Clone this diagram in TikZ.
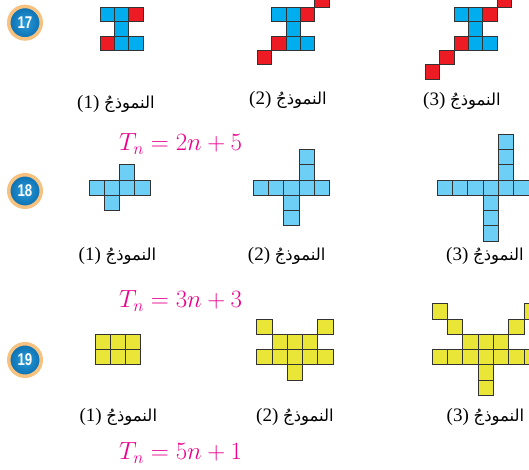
\documentclass[tikz,border=0pt]{standalone}
\usepackage{fontspec}
\usepackage{graphicx}
\setmainfont{Liberation Serif}
\newfontfamily\arabicfont[Script=Arabic]{DejaVu Sans}
\newfontfamily\badgefont{Liberation Sans}
\TeXXeTstate=1
\definecolor{cyanblue}{HTML}{00AEEF}
\definecolor{skyblue}{HTML}{6DCFF6}
\definecolor{tilered}{HTML}{ED1C24}
\definecolor{tileyellow}{HTML}{EAE638}
\definecolor{tileedge}{HTML}{333333}
\definecolor{formulapink}{HTML}{EC008C}
\definecolor{badgeblue}{HTML}{0B6FB0}
\definecolor{badgelight}{HTML}{2A9BDA}
\definecolor{badgering}{HTML}{F7C17F}
\newcommand{\tiles}[5]{\foreach \c/\r in {#5} \draw[tile, fill=#4] ({#1+(\c)*#3},{#2+(\r)*#3}) rectangle ++(#3,#3);}
\newcommand{\modelname}[1]{(#1)~{\arabicfont\fontsize{16.5}{16.5}\selectfont\beginR النموذجُ\endR}}
\tikzset{tile/.style={draw=tileedge, line width=0.9pt},
  modellabel/.style={inner sep=0pt, font=\fontsize{19}{19}\selectfont},
  formula/.style={anchor=west, inner sep=0pt, text=formulapink, font=\fontsize{23}{23}\selectfont},
  badge/.style={circle, draw=badgering, line width=3.5pt, inner color=badgelight, outer color=badgeblue, minimum size=32.5pt, inner sep=0pt, text=white, font=\badgefont\bfseries\fontsize{17}{17}\selectfont}}

\begin{document}
\begin{tikzpicture}[x=1pt, y=-1pt]
\useasboundingbox (0,0) rectangle (529,470);
\clip (0,0) rectangle (529,470);
\fill[white] (0,0) rectangle (529,470);
% 17
\node[badge] (q17) at (25,22.7) {\scalebox{0.78}[1]{17}};
\tiles{100}{7.3}{14.4}{cyanblue}{0/0,1/0,1/1,1/2,2/2}
\tiles{100}{7.3}{14.4}{tilered}{2/0,0/2}
\tiles{271.7}{7.3}{14.4}{cyanblue}{0/0,1/0,1/1,1/2,2/2}
\tiles{271.7}{7.3}{14.4}{tilered}{2/0,0/2,3/-1,-1/3}
\tiles{454}{7.3}{14.4}{cyanblue}{0/0,1/0,1/1,1/2,2/2}
\tiles{454}{7.3}{14.4}{tilered}{2/0,0/2,3/-1,4/-2,-1/3,-2/4}
\node[modellabel] (m17a) at (116,104) {\modelname{1}};
\node[modellabel] (m17b) at (288,100) {\modelname{2}};
\node[modellabel] (m17c) at (462,101) {\modelname{3}};
\node[formula] (rule17) at (119,144) {$T_n = 2n + 5$};
% 18
\node[badge] (q18) at (25,191) {\scalebox{0.78}[1]{18}};
\tiles{89}{180}{15.3}{skyblue}{0/0,1/0,2/0,3/0,2/-1,1/1}
\tiles{253.3}{180}{15.3}{skyblue}{0/0,1/0,2/0,3/0,4/0,3/-1,3/-2,2/1,2/2}
\tiles{437.3}{180}{15.3}{skyblue}{0/0,1/0,2/0,3/0,4/0,5/0,4/-1,4/-2,4/-3,3/1,3/2,3/3}
\foreach \i/\x in {1/117.5, 2/286.7, 3/485}
  \node[modellabel] (m18-\i) at (\x,256) {\modelname{\i}};
\node[formula] (rule18) at (119,301) {$T_n = 3n + 3$};
% 19
\node[badge] (q19) at (25,360) {\scalebox{0.78}[1]{19}};
\tiles{95}{334.3}{15.3}{tileyellow}{0/0,1/0,2/0,0/1,1/1,2/1}
\tiles{256.7}{334.3}{15.3}{tileyellow}{0/-1,4/-1,1/0,2/0,3/0,0/1,1/1,2/1,3/1,4/1,2/2}
\tiles{432.3}{334.3}{15.3}{tileyellow}{0/-2,6/-2,1/-1,5/-1,2/0,3/0,4/0,0/1,1/1,2/1,3/1,4/1,5/1,6/1,3/2,3/3}
\foreach \i/\x in {1/118.3, 2/295, 3/485.5}
  \node[modellabel] (m19-\i) at (\x,417) {\modelname{\i}};
\node[formula] (rule19) at (119,453) {$T_n = 5n + 1$};
\end{tikzpicture}
\end{document}
